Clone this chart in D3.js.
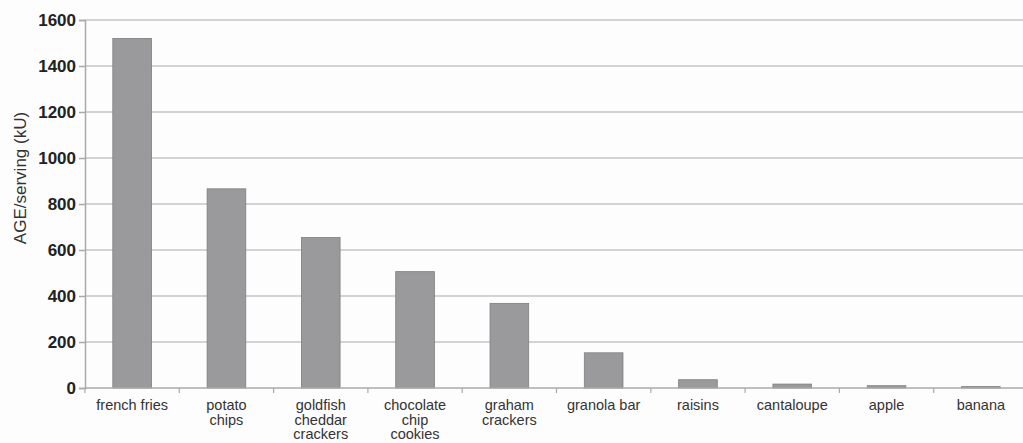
<!DOCTYPE html>
<html>
<head>
<meta charset="utf-8">
<script src="https://cdn.jsdelivr.net/npm/d3@7"></script>
<style>
  body { margin: 0; background: #fdfdfd; }
  svg { display: block; font-family: "Liberation Sans", Arial, sans-serif; }
</style>
</head>
<body>
<div id="chart"></div>
<script>
// foods and their AGE content per serving
var foods = [["french fries"], ["potato", "chips"], ["goldfish", "cheddar", "crackers"],
  ["chocolate", "chip", "cookies"], ["graham", "crackers"], ["granola bar"],
  ["raisins"], ["cantaloupe"], ["apple"], ["banana"]];
var ageValues = [1520, 866, 654, 506, 368, 153, 36, 17, 10, 6];
var yTicks = [0, 200, 400, 600, 800, 1000, 1200, 1400, 1600];

var width = 1023, height = 443;
var margin = {left: 85, top: 20, bottom: 55};
var plotRight = 1028;
var y0 = height - margin.bottom;

var svg = d3.select("#chart").append("svg")
  .attr("width", width)
  .attr("height", height);

var x = d3.scaleBand()
  .domain(d3.range(foods.length))
  .range([margin.left, plotRight])
  .padding(0);

var y = d3.scaleLinear()
  .domain([0, 1600])
  .range([y0, margin.top]);

// gridlines
svg.append("g")
  .selectAll("line")
  .data(yTicks.slice(1))
  .enter().append("line")
  .attr("x1", margin.left)
  .attr("x2", plotRight)
  .attr("y1", function(d) { return y(d); })
  .attr("y2", function(d) { return y(d); })
  .attr("stroke", "#c4c4c4")
  .attr("stroke-width", 1.5);

// bars
var barW = x.bandwidth() * 0.41;
svg.append("g")
  .selectAll("rect")
  .data(ageValues)
  .enter().append("rect")
  .attr("x", function(d, i) { return x(i) + (x.bandwidth() - barW) / 2; })
  .attr("y", function(d) { return y(d); })
  .attr("width", barW)
  .attr("height", function(d) { return y0 - y(d); })
  .attr("fill", "#9a9a9c")
  .attr("stroke", "#7e7e80")
  .attr("stroke-width", 0.8);

// y axis
var yAxis = svg.append("g")
  .attr("transform", "translate(" + margin.left + ",0)")
  .call(d3.axisLeft(y).tickValues(yTicks).tickFormat(d3.format("d")).tickSize(6).tickPadding(3));
yAxis.select(".domain").attr("stroke", "#aaa").attr("stroke-width", 1.5);
yAxis.selectAll(".tick line").attr("stroke", "#aaa").attr("stroke-width", 1.5);
yAxis.selectAll("text")
  .attr("font-size", 17)
  .attr("font-weight", "bold")
  .attr("fill", "#222")
  .attr("font-family", "Liberation Sans, Arial, sans-serif");

// x axis baseline + ticks at band edges
svg.append("line")
  .attr("x1", margin.left).attr("x2", plotRight)
  .attr("y1", y0).attr("y2", y0)
  .attr("stroke", "#aaa").attr("stroke-width", 1.5);

svg.append("g")
  .selectAll("line")
  .data(d3.range(foods.length + 1))
  .enter().append("line")
  .attr("x1", function(i) { return i < foods.length ? x(i) : plotRight; })
  .attr("x2", function(i) { return i < foods.length ? x(i) : plotRight; })
  .attr("y1", y0).attr("y2", y0 + 5)
  .attr("stroke", "#aaa").attr("stroke-width", 1.2);

// category labels
var labels = svg.append("g")
  .selectAll("text")
  .data(foods)
  .enter().append("text")
  .attr("x", function(d, i) { return x(i) + x.bandwidth() / 2; })
  .attr("y", y0 + 22)
  .attr("text-anchor", "middle")
  .attr("font-size", 14.5)
  .attr("fill", "#333");

labels.selectAll("tspan")
  .data(function(d) { return d; })
  .enter().append("tspan")
  .attr("x", function() { return d3.select(this.parentNode).attr("x"); })
  .attr("dy", function(d, j) { return j === 0 ? 0 : 14.5; })
  .text(function(d) { return d; });

// y axis title
svg.append("text")
  .attr("transform", "translate(26,178) rotate(-90)")
  .attr("text-anchor", "middle")
  .attr("font-size", 17)
  .attr("fill", "#333")
  .text("AGE/serving (kU)");
</script>
</body>
</html>
